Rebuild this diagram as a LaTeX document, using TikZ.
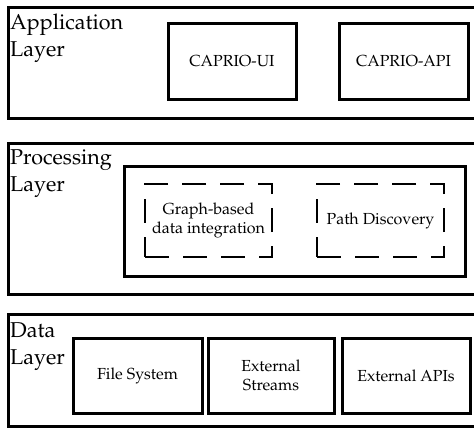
\documentclass[tikz,border=0pt]{standalone}
\usepackage[T1]{fontenc}
\usepackage{mathpazo}
\usepackage{tikz}
\usetikzlibrary{positioning}

\tikzset{
  layerBox/.style={draw,line width=3pt,anchor=north west,inner sep=0pt,minimum width=500pt},
  layerLabel/.style={anchor=north west,inner sep=0pt,align=left,font=\fontsize{21.5}{27}\selectfont},
  compBox/.style={draw,line width=3pt,inner sep=2pt,align=center,minimum height=75pt,font=\fontsize{16}{19}\selectfont},
  dashBox/.style={compBox,line width=2.7pt,dash pattern=on 24pt off 14pt,minimum width=127pt,minimum height=73pt}
}

\begin{document}
\begin{tikzpicture}[x=1pt,y=-1pt]
  \useasboundingbox (0,0) rectangle (474,431);
  \clip (0,0) rectangle (474,431);
  % application layer
  \node[layerBox,minimum height=111pt] (appLayer) at (6.5,6) {};
  \node[layerLabel] (appLabel) at (10,14) {Application\\Layer};
  \node[compBox,minimum width=128pt,minimum height=76pt] (ui) at (232,61) {CAPRIO-UI};
  \node[compBox,minimum width=129pt,minimum height=76pt] (api) at (403.5,61) {CAPRIO-API};
  % processing layer
  \node[layerBox,minimum height=151pt] (procLayer) at (6.5,142) {};
  \node[layerLabel] (procLabel) at (10,149) {Processing\\Layer};
  \node[compBox,minimum width=341pt,minimum height=110pt] (engine) at (294.5,221) {};
  \node[dashBox] (integ) at (208.5,220.5) {Graph-based\\data integration};
  \node[dashBox] (paths) at (380.5,220.5) {Path Discovery};
  % data layer
  \node[layerBox,minimum height=112pt] (dataLayer) at (6.5,313) {};
  \node[layerLabel] (dataLabel) at (10,322) {Data\\Layer};
  \node[compBox,minimum width=129pt] (fs) at (137.5,375.5) {File System};
  \node[compBox,minimum width=126pt] (streams) at (271,375.5) {External\\Streams};
  \node[compBox,minimum width=128pt] (extapi) at (406,375.5) {External APIs};
\end{tikzpicture}
\end{document}
